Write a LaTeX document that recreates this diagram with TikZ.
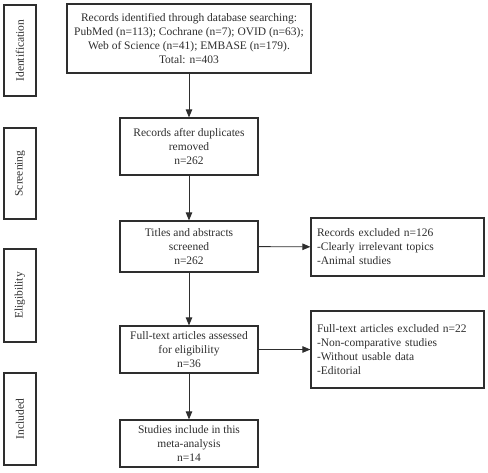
\documentclass[tikz,border=0pt]{standalone}
\usepackage{fontspec}
\setmainfont{Liberation Serif}
\usetikzlibrary{arrows.meta}
\definecolor{ink}{HTML}{2E2E2E}
\tikzset{
  box/.style={draw=ink, line width=1.2pt, text=ink, align=center, inner sep=2pt,
    font=\fontsize{11.5}{14}\selectfont},
  exbox/.style={box, align=left, text width=161pt, inner sep=5pt},
  phase/.style={draw=ink, line width=1.2pt, text=ink, rotate=90, minimum height=32pt,
    inner sep=0pt, font=\fontsize{11.5}{14}\selectfont},
  arr/.style={draw=ink, line width=0.9pt, -{Triangle[length=8pt,width=6.5pt]}}
}
\begin{document}
\begin{tikzpicture}[x=1pt,y=-1pt]
        \useasboundingbox (0,0) rectangle (488,472);
        % phases on the left
        \node [phase, minimum width=91pt] (ident) at (20,50.5) {Identification};
        \node [phase, minimum width=91pt] (scr) at (20,173.5) {Screening};
        \node [phase, minimum width=93pt] (elig) at (20,295.5) {Eligibility};
        \node [phase, minimum width=92pt] (incl) at (20,419) {Included};
        % main column
        \node [box, minimum width=244pt, minimum height=69pt] (found) at (189,38.5)
          {Records identified through database searching:\\PubMed (n=113); Cochrane (n=7); OVID (n=63);\\Web of Science (n=41); EMBASE (n=179).\\Total: n=403};
        \node [box, minimum width=138pt, minimum height=57pt] (dedup) at (189,146.5)
          {Records after duplicates\\removed\\n=262};
        \node [box, minimum width=138pt, minimum height=51pt] (titles) at (189,246.5)
          {Titles and abstracts\\screened\\n=262};
        \node [box, minimum width=138pt, minimum height=47pt] (fulltext) at (189,349.5)
          {Full-text articles assessed\\for eligibility\\n=36};
        \node [box, minimum width=138pt, minimum height=47pt] (incl5) at (189,443.5)
          {Studies include in this\\meta-analysis\\n=14};
        % exclusions
        \node [exbox, minimum width=173pt, minimum height=58pt] (excl1) at (397.5,247)
          {Records excluded n=126\\-Clearly irrelevant topics\\-Animal studies};
        \node [exbox, minimum width=173pt, minimum height=77pt] (excl2) at (397.5,349.5)
          {Full-text articles excluded n=22\\-Non-comparative studies\\-Without usable data\\-Editorial};
        % arrows
        \draw [arr] (found) -- (dedup);
        \draw [arr] (dedup) -- (titles);
        \draw [arr] (titles) -- (fulltext);
        \draw [arr] (fulltext) -- (incl5);
        \draw [arr] (titles) -- (excl1);
        \draw [arr] (fulltext) -- (excl2);
\end{tikzpicture}
\end{document}
